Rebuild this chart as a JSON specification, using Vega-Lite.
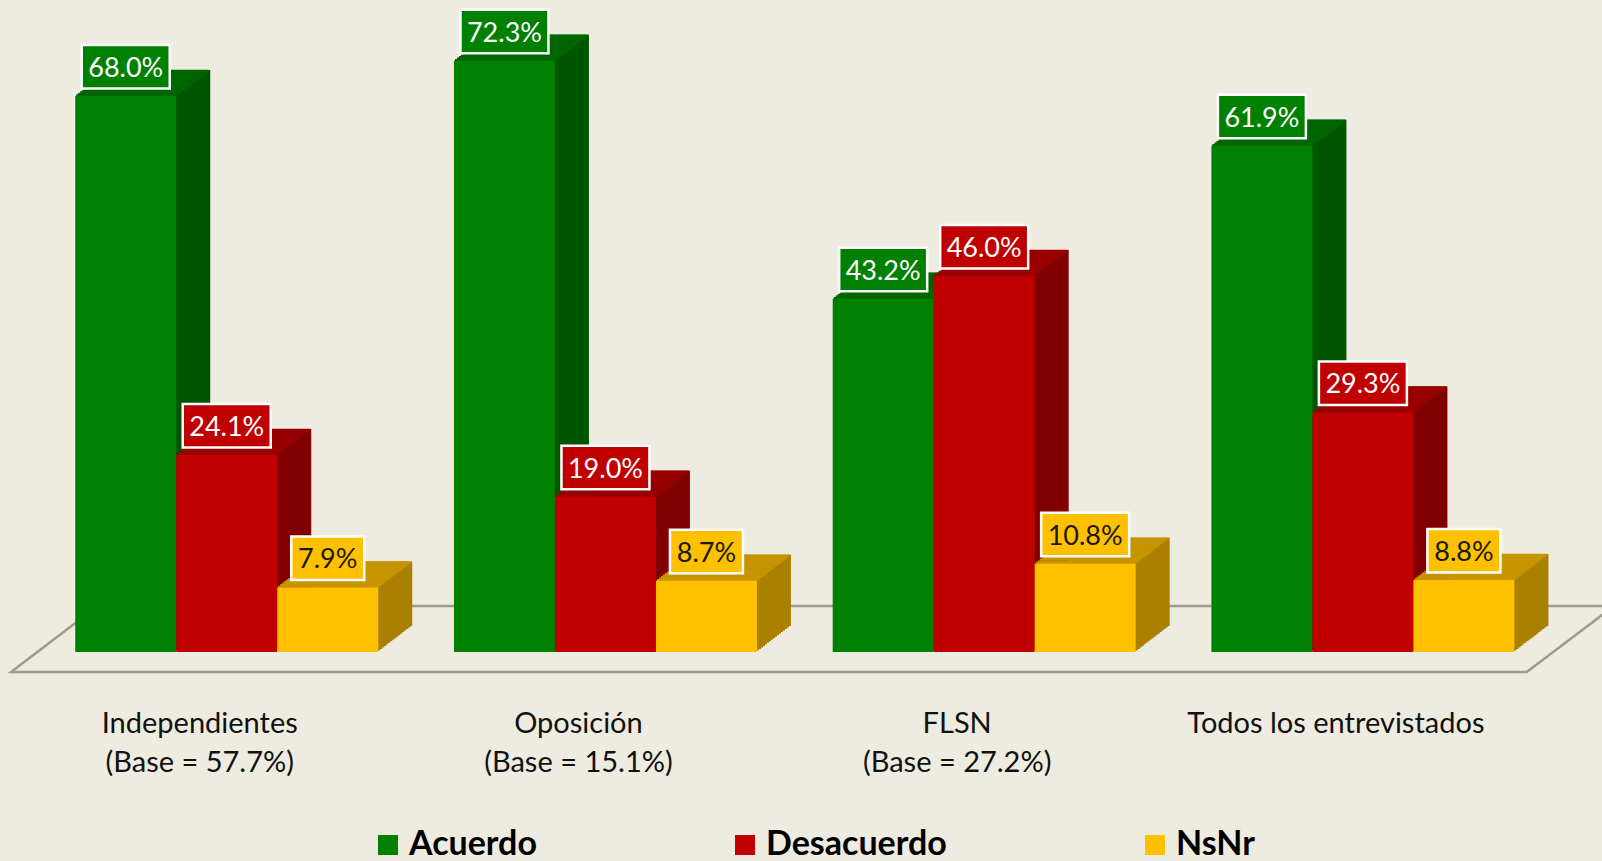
{"$schema":"https://vega.github.io/schema/vega-lite/v6.json","width":1602,"height":652,"padding":{"left":0,"top":0,"right":0,"bottom":209},"autosize":{"type":"none"},"background":"#EEEBE0","config":{"view":{"stroke":null},"font":"Lato"},
"datasets":{"d":[
{"group":"Independientes\n(Base = 57.7%)","series":"Acuerdo","value":68.0,"etiqueta":"68.0%"},
{"group":"Independientes\n(Base = 57.7%)","series":"Desacuerdo","value":24.1,"etiqueta":"24.1%"},
{"group":"Independientes\n(Base = 57.7%)","series":"NsNr","value":7.9,"etiqueta":"7.9%"},
{"group":"Oposición\n(Base = 15.1%)","series":"Acuerdo","value":72.3,"etiqueta":"72.3%"},
{"group":"Oposición\n(Base = 15.1%)","series":"Desacuerdo","value":19.0,"etiqueta":"19.0%"},
{"group":"Oposición\n(Base = 15.1%)","series":"NsNr","value":8.7,"etiqueta":"8.7%"},
{"group":"FLSN\n(Base = 27.2%)","series":"Acuerdo","value":43.2,"etiqueta":"43.2%"},
{"group":"FLSN\n(Base = 27.2%)","series":"Desacuerdo","value":46.0,"etiqueta":"46.0%"},
{"group":"FLSN\n(Base = 27.2%)","series":"NsNr","value":10.8,"etiqueta":"10.8%"},
{"group":"Todos los entrevistados","series":"Acuerdo","value":61.9,"etiqueta":"61.9%"},
{"group":"Todos los entrevistados","series":"Desacuerdo","value":29.3,"etiqueta":"29.3%"},
{"group":"Todos los entrevistados","series":"NsNr","value":8.8,"etiqueta":"8.8%"}],
"floor":[{"fx":6.1,"fy":5.63,"paso":1},{"fx":0.69,"fy":-2.45,"paso":2},{"fx":95.3,"fy":-2.45,"paso":3},{"fx":100.75,"fy":5.63,"paso":4},{"fx":6.1,"fy":5.63,"paso":5}]},
"resolve":{"scale":{"x":"independent"},"axis":{"x":"independent"}},
"layer":[
{"data":{"name":"floor"},"mark":{"type":"line","stroke":"#9C9C94","strokeWidth":2.5},"encoding":{"x":{"field":"fx","type":"quantitative","scale":{"domain":[0,100],"nice":false,"zero":false},"axis":null},"y":{"field":"fy","type":"quantitative","scale":{"domain":[0,79.74],"nice":false},"axis":null},"order":{"field":"paso","type":"ordinal"}}},
{"data":{"name":"d"},
"encoding":{"x":{"field":"group","type":"nominal","sort":null,"scale":{"type":"band","paddingInner":0.2,"paddingOuter":0.215,"align":0.462},"axis":{"title":null,"domain":false,"ticks":false,"labelAngle":0,"labelOffset":-27,"labelPadding":57,"labelFontSize":29,"labelLimit":600,"labelColor":"#111111","labelLineHeight":39,"labelBaseline":"top","labelExpr":"split(datum.label,'\\n')"}},
"xOffset":{"field":"series","type":"nominal","sort":null,"scale":{"paddingInner":0,"paddingOuter":0}},
"y":{"field":"value","type":"quantitative","scale":{"domain":[0,79.74],"nice":false},"axis":null}},
"layer":[
{"resolve":{"scale":{"xOffset":"independent"}},"encoding":{"y2":{"datum":0},"fill":{"field":"series","type":"nominal","sort":null,"legend":null,"scale":{"range":["#005500","#800000","#AA8000"]}}},
"layer":[
{"mark":{"type":"bar","yOffset":-1.53,"y2Offset":-1.53},"encoding":{"xOffset":{"field":"series","sort":null,"scale":{"range":[2,305]}}}},
{"mark":{"type":"bar","yOffset":-3.06,"y2Offset":-3.06},"encoding":{"xOffset":{"field":"series","sort":null,"scale":{"range":[4,307]}}}},
{"mark":{"type":"bar","yOffset":-4.59,"y2Offset":-4.59},"encoding":{"xOffset":{"field":"series","sort":null,"scale":{"range":[6,309]}}}},
{"mark":{"type":"bar","yOffset":-6.12,"y2Offset":-6.12},"encoding":{"xOffset":{"field":"series","sort":null,"scale":{"range":[8,311]}}}},
{"mark":{"type":"bar","yOffset":-7.65,"y2Offset":-7.65},"encoding":{"xOffset":{"field":"series","sort":null,"scale":{"range":[10,313]}}}},
{"mark":{"type":"bar","yOffset":-9.18,"y2Offset":-9.18},"encoding":{"xOffset":{"field":"series","sort":null,"scale":{"range":[12,315]}}}},
{"mark":{"type":"bar","yOffset":-10.71,"y2Offset":-10.71},"encoding":{"xOffset":{"field":"series","sort":null,"scale":{"range":[14,317]}}}},
{"mark":{"type":"bar","yOffset":-12.24,"y2Offset":-12.24},"encoding":{"xOffset":{"field":"series","sort":null,"scale":{"range":[16,319]}}}},
{"mark":{"type":"bar","yOffset":-13.77,"y2Offset":-13.77},"encoding":{"xOffset":{"field":"series","sort":null,"scale":{"range":[18,321]}}}},
{"mark":{"type":"bar","yOffset":-15.3,"y2Offset":-15.3},"encoding":{"xOffset":{"field":"series","sort":null,"scale":{"range":[20,323]}}}},
{"mark":{"type":"bar","yOffset":-16.83,"y2Offset":-16.83},"encoding":{"xOffset":{"field":"series","sort":null,"scale":{"range":[22,325]}}}},
{"mark":{"type":"bar","yOffset":-18.36,"y2Offset":-18.36},"encoding":{"xOffset":{"field":"series","sort":null,"scale":{"range":[24,327]}}}},
{"mark":{"type":"bar","yOffset":-19.89,"y2Offset":-19.89},"encoding":{"xOffset":{"field":"series","sort":null,"scale":{"range":[26,329]}}}},
{"mark":{"type":"bar","yOffset":-21.42,"y2Offset":-21.42},"encoding":{"xOffset":{"field":"series","sort":null,"scale":{"range":[28,331]}}}},
{"mark":{"type":"bar","yOffset":-22.95,"y2Offset":-22.95},"encoding":{"xOffset":{"field":"series","sort":null,"scale":{"range":[30,333]}}}},
{"mark":{"type":"bar","yOffset":-24.48,"y2Offset":-24.48},"encoding":{"xOffset":{"field":"series","sort":null,"scale":{"range":[32,335]}}}},
{"mark":{"type":"bar","yOffset":-26,"y2Offset":-26},"encoding":{"xOffset":{"field":"series","sort":null,"scale":{"range":[34,337]}}}}
]},
{"resolve":{"scale":{"xOffset":"independent"}},"encoding":{"y2":{"field":"value"},"stroke":{"field":"series","type":"nominal","sort":null,"legend":null,"scale":{"range":["#006600","#990000","#C79500"]}}},
"layer":[
{"mark":{"type":"bar","strokeWidth":2,"yOffset":-25.25,"y2Offset":-25.25},"encoding":{"xOffset":{"field":"series","sort":null,"scale":{"range":[33,336]}}}},
{"mark":{"type":"bar","strokeWidth":2,"yOffset":-23.72,"y2Offset":-23.72},"encoding":{"xOffset":{"field":"series","sort":null,"scale":{"range":[31,334]}}}},
{"mark":{"type":"bar","strokeWidth":2,"yOffset":-22.19,"y2Offset":-22.19},"encoding":{"xOffset":{"field":"series","sort":null,"scale":{"range":[29,332]}}}},
{"mark":{"type":"bar","strokeWidth":2,"yOffset":-20.66,"y2Offset":-20.66},"encoding":{"xOffset":{"field":"series","sort":null,"scale":{"range":[27,330]}}}},
{"mark":{"type":"bar","strokeWidth":2,"yOffset":-19.13,"y2Offset":-19.13},"encoding":{"xOffset":{"field":"series","sort":null,"scale":{"range":[25,328]}}}},
{"mark":{"type":"bar","strokeWidth":2,"yOffset":-17.6,"y2Offset":-17.6},"encoding":{"xOffset":{"field":"series","sort":null,"scale":{"range":[23,326]}}}},
{"mark":{"type":"bar","strokeWidth":2,"yOffset":-16.07,"y2Offset":-16.07},"encoding":{"xOffset":{"field":"series","sort":null,"scale":{"range":[21,324]}}}},
{"mark":{"type":"bar","strokeWidth":2,"yOffset":-14.54,"y2Offset":-14.54},"encoding":{"xOffset":{"field":"series","sort":null,"scale":{"range":[19,322]}}}},
{"mark":{"type":"bar","strokeWidth":2,"yOffset":-13.01,"y2Offset":-13.01},"encoding":{"xOffset":{"field":"series","sort":null,"scale":{"range":[17,320]}}}},
{"mark":{"type":"bar","strokeWidth":2,"yOffset":-11.48,"y2Offset":-11.48},"encoding":{"xOffset":{"field":"series","sort":null,"scale":{"range":[15,318]}}}},
{"mark":{"type":"bar","strokeWidth":2,"yOffset":-9.95,"y2Offset":-9.95},"encoding":{"xOffset":{"field":"series","sort":null,"scale":{"range":[13,316]}}}},
{"mark":{"type":"bar","strokeWidth":2,"yOffset":-8.42,"y2Offset":-8.42},"encoding":{"xOffset":{"field":"series","sort":null,"scale":{"range":[11,314]}}}},
{"mark":{"type":"bar","strokeWidth":2,"yOffset":-6.89,"y2Offset":-6.89},"encoding":{"xOffset":{"field":"series","sort":null,"scale":{"range":[9,312]}}}},
{"mark":{"type":"bar","strokeWidth":2,"yOffset":-5.36,"y2Offset":-5.36},"encoding":{"xOffset":{"field":"series","sort":null,"scale":{"range":[7,310]}}}},
{"mark":{"type":"bar","strokeWidth":2,"yOffset":-3.83,"y2Offset":-3.83},"encoding":{"xOffset":{"field":"series","sort":null,"scale":{"range":[5,308]}}}},
{"mark":{"type":"bar","strokeWidth":2,"yOffset":-2.3,"y2Offset":-2.3},"encoding":{"xOffset":{"field":"series","sort":null,"scale":{"range":[3,306]}}}},
{"mark":{"type":"bar","strokeWidth":2,"yOffset":-0.77,"y2Offset":-0.77},"encoding":{"xOffset":{"field":"series","sort":null,"scale":{"range":[1,304]}}}}
]},
{"encoding":{"y2":{"datum":0},"color":{"field":"series","type":"nominal","sort":null,"scale":{"domain":["Acuerdo","Desacuerdo","NsNr"],"range":["#008000","#C00000","#FFC000"]},"legend":{"title":null,"orient":"none","legendX":371,"legendY":828,"direction":"horizontal","columns":3,"padding":0,"columnPadding":191,"symbolType":"square","symbolSize":400,"symbolStrokeWidth":0,"labelFontSize":34,"labelFontWeight":"bold","labelColor":"#000000","labelOffset":4,"labelLimit":400}}},"mark":{"type":"bar"}},
{"transform":[{"filter":"datum.value >= 10"}],"encoding":{"y2":{"field":"value"},"color":{"field":"series","type":"nominal","sort":null}},"mark":{"type":"bar","width":88,"stroke":"#FFFFFF","strokeWidth":2.5,"yOffset":-51,"y2Offset":-7.5}},
{"transform":[{"filter":"datum.value < 10"}],"encoding":{"y2":{"field":"value"},"color":{"field":"series","type":"nominal","sort":null}},"mark":{"type":"bar","width":73,"stroke":"#FFFFFF","strokeWidth":2.5,"yOffset":-51,"y2Offset":-7.5}},
{"mark":{"type":"text","fontSize":27,"baseline":"middle","align":"center","yOffset":-27},"encoding":{"text":{"field":"etiqueta","type":"nominal"},"fill":{"condition":{"test":"datum.series === 'NsNr'","value":"#1A1A00"},"value":"#FFFFFF"}}}
]}
]}
